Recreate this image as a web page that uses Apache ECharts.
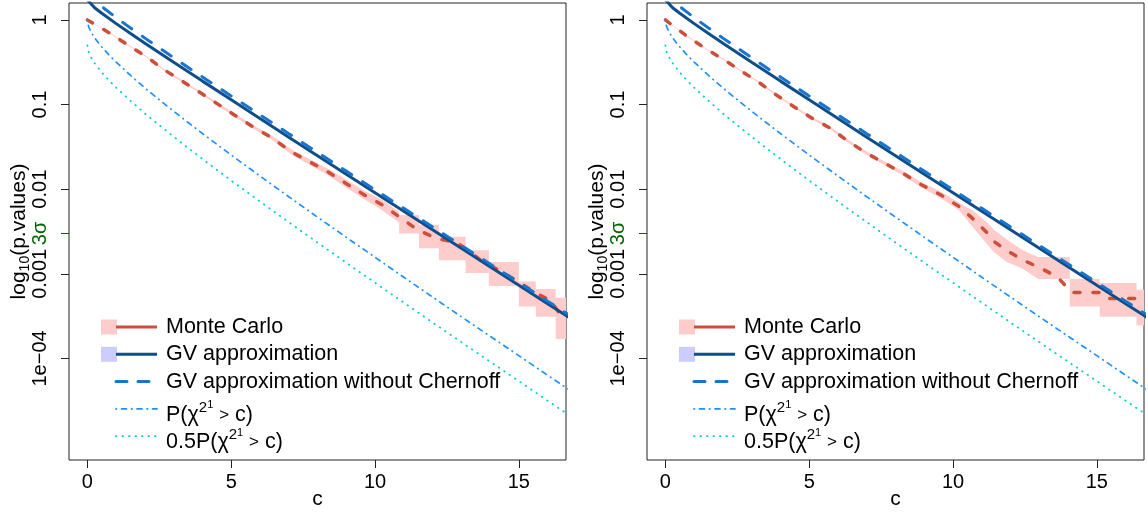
<!DOCTYPE html>
<html>
<head>
<meta charset="utf-8">
<script src="https://cdn.jsdelivr.net/npm/echarts@6/dist/echarts.min.js"></script>
<style>
  html, body { margin: 0; padding: 0; background: #fff; }
  #chart { width: 1148px; height: 513px; }
</style>
</head>
<body>
<div id="chart"></div>
<script>
// ---- data -------------------------------------------------------------
// chi-square reference curves
const chiC = [0, 0.02, 0.05, 0.1, 0.2, 0.3, 0.5, 0.75, 1, 1.5, 2, 2.5, 3, 3.5, 4, 5, 6, 7, 8, 9, 10, 11, 12, 13, 14, 15, 16, 17];
const chiTail = [1, 0.8875, 0.823, 0.752, 0.655, 0.584, 0.480, 0.386, 0.317, 0.221, 0.157, 0.1138, 0.0833, 0.0614, 0.0455, 0.0253, 0.0143, 0.00815, 0.00468, 0.0027, 0.00157, 0.000911, 0.000532, 0.000311, 0.000183, 0.000108, 0.0000633, 0.0000374];
const halfChiTail = [0.5, 0.444, 0.4115, 0.376, 0.3275, 0.292, 0.240, 0.193, 0.1585, 0.1105, 0.0785, 0.0569, 0.0417, 0.0307, 0.02275, 0.01265, 0.00715, 0.004075, 0.00234, 0.00135, 0.000785, 0.000456, 0.000266, 0.000156, 0.0000915, 0.000054, 0.0000317, 0.0000187];

// GV approximations
const gvC = [0, 0.25, 0.5, 1, 1.5, 2, 3, 4, 5, 6, 7, 8, 9, 10, 11, 12, 13, 14, 15, 16, 17];
const gvApprox = [1.73, 1.394, 1.198, 0.9045, 0.6915, 0.531, 0.316, 0.1892, 0.1137, 0.0684, 0.0412, 0.0249, 0.0150, 0.00908, 0.00549, 0.00332, 0.00200, 0.001213, 0.000734, 0.000444, 0.000269];
const gvNoChernoff = [2.23, 1.70, 1.438, 1.063, 0.802, 0.6095, 0.3577, 0.2119, 0.1263, 0.0756, 0.0453, 0.0272, 0.01635, 0.00986, 0.00594, 0.00358, 0.00216, 0.001305, 0.000788, 0.000475, 0.000287];

// Monte Carlo estimate, left panel
const mcLeftC = [0, 0.77, 1.41, 2.05, 2.68, 3.32, 3.96, 4.48, 5.11, 5.75, 6.44, 7.08, 7.72, 8.35, 8.99, 9.63, 10.26, 10.87, 11.45, 12.12, 12.87, 13.39, 13.74, 14.46, 15.03, 15.57, 16.11, 16.51, 16.7];
const mcLeftP = [1, 0.70, 0.506, 0.368, 0.256, 0.187, 0.136, 0.104, 0.0754, 0.0548, 0.040, 0.0277, 0.0211, 0.0161, 0.0117, 0.00854, 0.0065, 0.00465, 0.00336, 0.00263, 0.00231, 0.00171, 0.00139, 0.00103, 0.000785, 0.000597, 0.000481, 0.000306, 0.00029];
// Monte Carlo confidence band, left panel
const bandLeftC  = [0, 0.77, 1.41, 2.05, 2.68, 3.32, 3.96, 4.48, 5.11, 5.75, 6.44, 7.08, 7.72, 8.35, 8.99, 9.63, 10.26, 10.84, 10.84, 11.53, 11.53, 12.22, 12.22, 13.15, 13.15, 13.96, 13.96, 15.0, 15.0, 15.59, 15.59, 16.28, 16.28, 16.64];
const bandLeftLo = [0.99, 0.69, 0.497, 0.361, 0.250, 0.182, 0.132, 0.100, 0.0722, 0.0522, 0.0378, 0.0259, 0.0195, 0.0147, 0.0105, 0.0076, 0.0056, 0.0040, 0.0030, 0.0030, 0.0020, 0.0020, 0.00145, 0.00145, 0.00102, 0.00102, 0.00072, 0.00072, 0.00041, 0.00041, 0.00031, 0.00031, 0.00017, 0.00017];
const bandLeftHi = [1.0, 0.71, 0.515, 0.375, 0.262, 0.192, 0.140, 0.108, 0.0788, 0.0575, 0.0424, 0.0296, 0.0228, 0.0176, 0.0130, 0.0096, 0.0075, 0.0054, 0.00495, 0.00495, 0.0038, 0.0038, 0.00275, 0.00275, 0.0019, 0.0019, 0.00138, 0.00138, 0.00081, 0.00081, 0.00066, 0.00066, 0.00052, 0.00052];

// Monte Carlo estimate, right panel
const mcRightC = [0, 0.69, 1.38, 2.01, 2.58, 3.21, 3.85, 4.47, 5.1, 5.74, 6.37, 7.0, 7.63, 8.26, 8.9, 9.58, 10.22, 10.74, 11.2, 11.43, 11.84, 12.42, 13.06, 13.63, 14.04, 14.15, 15.1, 15.33, 16.7];
const mcRightP = [1, 0.665, 0.462, 0.343, 0.256, 0.187, 0.130, 0.0944, 0.0689, 0.0525, 0.0365, 0.0265, 0.0202, 0.0154, 0.0113, 0.00854, 0.00621, 0.00432, 0.00302, 0.0024, 0.00191, 0.00146, 0.00116, 0.00092, 0.000645, 0.0006, 0.0006, 0.00051, 0.00051];
// Monte Carlo confidence band, right panel
const bandRightC  = [0, 0.69, 1.38, 2.01, 2.58, 3.21, 3.85, 4.47, 5.1, 5.74, 6.37, 7.0, 7.63, 8.26, 8.9, 9.58, 10.22, 10.74, 11.2, 11.43, 11.84, 12.42, 12.96, 14.06, 14.06, 15.1, 15.1, 16.38, 16.38, 16.64];
const bandRightLo = [0.99, 0.655, 0.455, 0.337, 0.251, 0.183, 0.127, 0.0918, 0.0668, 0.0507, 0.0351, 0.0253, 0.0192, 0.0145, 0.0105, 0.0078, 0.0056, 0.0034, 0.0022, 0.0018, 0.0014, 0.00115, 0.00087, 0.00087, 0.00041, 0.00041, 0.00031, 0.00031, 0.000245, 0.000245];
const bandRightHi = [1.0, 0.675, 0.470, 0.349, 0.262, 0.192, 0.134, 0.097, 0.0711, 0.0545, 0.0380, 0.0278, 0.0213, 0.0164, 0.0121, 0.0093, 0.0069, 0.0054, 0.0040, 0.0033, 0.0026, 0.0019, 0.00158, 0.00158, 0.00087, 0.00087, 0.00078, 0.00078, 0.00065, 0.00065];

// 3-sigma threshold
const sigma3 = 0.003;

// axis ticks
const xTicks = [0, 5, 10, 15];
const yTickValues = [1, 0.1, 0.01, 0.001, 0.0001];
const yTickLabels = ['1', '0.1', '0.01', '0.001', '1e\u221204'];

const legendNames = ['Monte Carlo', 'GV approximation', 'GV approximation without Chernoff', 'P(\u03c7\u00b2\u2081 > c)', '0.5P(\u03c7\u00b2\u2081 > c)'];

// ---- styling ----------------------------------------------------------
const FONT = '"Liberation Sans", Arial, Helvetica, sans-serif';
const COL = {
  mc: '#CD4F39', band: '#FFCCCC', gv: '#104E8B', gvBox: '#CCCCFF',
  gvNoCh: '#1874CD', chi: '#1E90FF', halfChi: '#00CDCD', sigma: '#006400', axis: '#222'
};
const X_MIN = -0.64, X_MAX = 16.64;
const Y_MIN = Math.pow(10, -5.2), Y_MAX = Math.pow(10, 0.2);
const panels = [
  { left: 69, mcC: mcLeftC, mcP: mcLeftP, bC: bandLeftC, bLo: bandLeftLo, bHi: bandLeftHi },
  { left: 647, mcC: mcRightC, mcP: mcRightP, bC: bandRightC, bLo: bandRightLo, bHi: bandRightHi }
];

const zip = (xs, ys) => xs.map((x, i) => [x, ys[i]]);

function yTickFormatter(v) {
  const i = yTickValues.findIndex(t => Math.abs(Math.log10(t) - Math.log10(v)) < 1e-6);
  return i >= 0 ? yTickLabels[i] : '';
}

const grids = [], xAxes = [], yAxes = [], series = [], graphics = [];

panels.forEach((p, k) => {
  grids.push({ left: p.left, top: 3, width: 497, height: 457, show: true,
    containLabel: false, outerBoundsMode: 'none',
    borderColor: COL.axis, borderWidth: 1, backgroundColor: 'transparent' });

  xAxes.push({
    type: 'value', gridIndex: k, min: X_MIN, max: X_MAX, position: 'bottom',
    name: 'c', nameLocation: 'middle', nameGap: 29, nameMoveOverlap: false,
    nameTextStyle: { fontFamily: FONT, fontSize: 21, color: '#000' },
    axisLine: { show: false, onZero: false }, splitLine: { show: false },
    axisTick: { show: true, length: 8, customValues: xTicks, lineStyle: { color: COL.axis } },
    axisLabel: { customValues: xTicks, margin: 12.5, fontFamily: FONT, fontSize: 20, color: '#000' }
  });

  const yBase = {
    type: 'log', logBase: 10, gridIndex: k, min: Y_MIN, max: Y_MAX, position: 'left', offset: 0,
    axisLine: { show: false, onZero: false }, splitLine: { show: false }
  };
  yAxes.push(Object.assign({}, yBase, {
    name: '{a|log}{s|10}{a|(p.values)}', nameLocation: 'middle', nameRotate: 90, nameGap: 37,
    nameMoveOverlap: false,
    nameTextStyle: { rich: {
      a: { fontFamily: FONT, fontSize: 21, lineHeight: 26, color: '#000' },
      s: { fontFamily: FONT, fontSize: 14, lineHeight: 16, verticalAlign: 'bottom', color: '#000' }
    } },
    axisTick: { show: true, length: 8, customValues: yTickValues, lineStyle: { color: COL.axis } },
    axisLabel: { customValues: yTickValues, rotate: 90, margin: 19, formatter: yTickFormatter,
      fontFamily: FONT, fontSize: 20, color: '#000' }
  }));
  yAxes.push(Object.assign({}, yBase, {
    axisTick: { show: true, length: 8, customValues: [sigma3], lineStyle: { color: COL.sigma } },
    axisLabel: { customValues: [sigma3], rotate: 90, margin: 19, formatter: () => '3\u03c3',
      fontFamily: FONT, fontSize: 20, color: COL.sigma }
  }));

  const yIdx = 2 * k;
  const common = { xAxisIndex: k, yAxisIndex: yIdx, showSymbol: false, symbol: 'none',
    silent: true, animation: false, clip: true };

  // Monte Carlo confidence band
  series.push({
    type: 'custom', xAxisIndex: k, yAxisIndex: yIdx, clip: true, silent: true, animation: false,
    data: [[p.bC[0], p.bHi[0]]],
    renderItem: (params, api) => {
      const upper = p.bC.map((c, i) => api.coord([c, p.bHi[i]]));
      const lower = p.bC.map((c, i) => api.coord([c, p.bLo[i]])).reverse();
      return { type: 'polygon', shape: { points: upper.concat(lower) }, style: { fill: COL.band } };
    },
    z: 1
  });
  // Monte Carlo estimate
  series.push(Object.assign({}, common, { type: 'line', z: 2, data: zip(p.mcC, p.mcP),
    lineStyle: { color: COL.mc, width: 3.5, type: [6, 13], cap: 'round' } }));
  // half chi-square tail
  series.push(Object.assign({}, common, { type: 'line', z: 3, data: zip(chiC, halfChiTail),
    lineStyle: { color: COL.halfChi, width: 1.8, type: [0.5, 6], cap: 'round' } }));
  // chi-square tail
  series.push(Object.assign({}, common, { type: 'line', z: 3, data: zip(chiC, chiTail),
    lineStyle: { color: COL.chi, width: 1.7, type: [0.5, 5, 5, 5], cap: 'round' } }));
  // GV approximation, with the 3-sigma reference line
  series.push(Object.assign({}, common, { type: 'line', z: 4, data: zip(gvC, gvApprox),
    lineStyle: { color: COL.gv, width: 3 },
    markLine: { silent: true, symbol: ['none', 'none'], label: { show: false }, animation: false,
      lineStyle: { color: COL.sigma, width: 1, type: [5, 3, 1, 3] }, data: [{ yAxis: sigma3 }] } }));
  // GV approximation without Chernoff
  series.push(Object.assign({}, common, { type: 'line', z: 5, data: zip(gvC, gvNoChernoff),
    lineStyle: { color: COL.gvNoCh, width: 3, type: [11, 13], cap: 'round' } }));

  // legend
  const rows = [
    { box: COL.band, color: COL.mc, width: 3, dash: null },
    { box: COL.gvBox, color: COL.gv, width: 3, dash: null },
    { color: COL.gvNoCh, width: 3, dash: [11, 11] },
    { color: COL.chi, width: 1.7, dash: [0.5, 5, 5, 5], math: 'P(' },
    { color: COL.halfChi, width: 1.8, dash: [0.5, 6], math: '0.5P(' }
  ];
  const x0 = 101 + (p.left - 69);
  const richStyles = {
    t: { fontFamily: FONT, fontSize: 21.5, lineHeight: 30, fill: '#000' },
    gt: { fontFamily: FONT, fontSize: 17, lineHeight: 30, fill: '#000' },
    sup: { fontFamily: FONT, fontSize: 15, lineHeight: 20, verticalAlign: 'top', fill: '#000' },
    sub: { fontFamily: FONT, fontSize: 11, lineHeight: 22.6, verticalAlign: 'top', fill: '#000' }
  };
  rows.forEach((row, i) => {
    const y = 327 + i * 27.3;
    if (row.box) {
      graphics.push({ type: 'rect', silent: true, shape: { x: x0, y: y - 7.5, width: 16, height: 15 },
        style: { fill: row.box } });
    }
    graphics.push({ type: 'line', silent: true, shape: { x1: x0 + 15, y1: y, x2: x0 + 56, y2: y },
      style: { stroke: row.color, lineWidth: row.width, lineDash: row.dash, lineCap: row.dash ? 'round' : 'butt' } });
    const text = row.math
      ? '{t|' + row.math + '\u03c7}{sup|2}{sub|1}{t| }{gt|>}{t| c)}'
      : legendNames[i];
    graphics.push({ type: 'text', silent: true, x: x0 + 65, y: row.math ? y + 6 : y,
      style: { text: text, rich: row.math ? richStyles : undefined,
        font: '21.5px ' + FONT, fill: '#000',
        align: 'left', verticalAlign: 'middle', textAlign: 'left', textVerticalAlign: 'middle' } });
  });
});

const chart = echarts.init(document.getElementById('chart'), null, { renderer: 'canvas' });
chart.setOption({
  animation: false,
  backgroundColor: '#fff',
  grid: grids, xAxis: xAxes, yAxis: yAxes, series: series,
  graphic: { elements: graphics }
});
</script>
</body>
</html>
